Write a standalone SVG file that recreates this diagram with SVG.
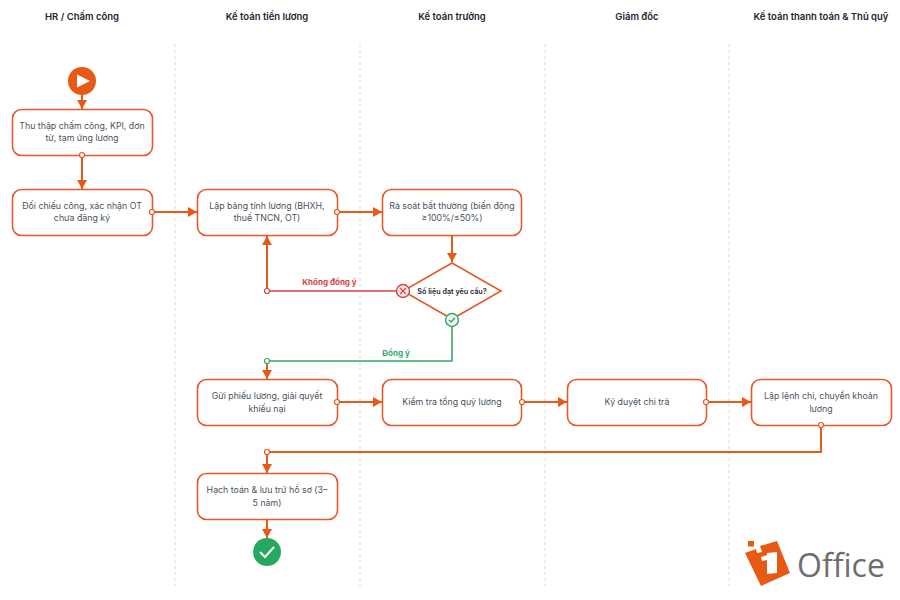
<svg xmlns="http://www.w3.org/2000/svg" width="900" height="600" viewBox="0 0 900 600">
<style>
text{font-family:Inter,"Liberation Sans",sans-serif;text-anchor:middle}
.h{font-size:9.5px;font-weight:600;fill:#1f2430}
.t{font-size:8.8px;fill:#4a5260}
.b{fill:#fff;stroke:#e8582a;stroke-width:1.6}
.l{fill:none;stroke:#e85a1c;stroke-width:2}
.lane{stroke:#d9d9d9;stroke-width:1;stroke-dasharray:3 3}
.p{fill:#fff;stroke:#e85a1c;stroke-width:1.2}
</style>
<defs>
<marker id="ar" markerUnits="userSpaceOnUse" markerWidth="12" markerHeight="12" refX="9" refY="6" orient="auto"><path d="M0 1L9 6L0 11Z" fill="#e85a14"/></marker>
</defs>
<rect width="900" height="600" fill="#fff"/>
<g id="headers">
<text class="h" x="82" y="20">HR / Chấm công</text>
<text class="h" x="267" y="20">Kế toán tiền lương</text>
<text class="h" x="452" y="20">Kế toán trưởng</text>
<text class="h" x="637" y="20">Giám đốc</text>
<text class="h" x="821" y="20">Kế toán thanh toán &amp; Thủ quỹ</text>
</g>
<g id="lanes">
<line class="lane" x1="175" y1="44" x2="175" y2="586"/>
<line class="lane" x1="360" y1="44" x2="360" y2="586"/>
<line class="lane" x1="545" y1="44" x2="545" y2="586"/>
<line class="lane" x1="729" y1="44" x2="729" y2="586"/>
</g>
<g id="connectors">
<path class="l" marker-end="url(#ar)" d="M82 95V109"/>
<path class="l" marker-end="url(#ar)" d="M82 155V189"/>
<path class="l" marker-end="url(#ar)" d="M152 212H197"/>
<path class="l" marker-end="url(#ar)" d="M337 212H382"/>
<path class="l" marker-end="url(#ar)" d="M452 235V262"/>
<path fill="none" stroke="#d64541" stroke-width="1.6" d="M396 291H267"/>
<path fill="none" stroke="#e85a1c" stroke-width="2" marker-end="url(#ar)" d="M267 291V236"/>
<path fill="none" stroke="#35a868" stroke-width="1.6" d="M452 327V361H267"/>
<path class="l" marker-end="url(#ar)" d="M267 361V379"/>
<path class="l" marker-end="url(#ar)" d="M337 402H382"/>
<path class="l" marker-end="url(#ar)" d="M522 402H567"/>
<path class="l" marker-end="url(#ar)" d="M706 402H751"/>
<path class="l" d="M821 425V452H267"/>
<path class="l" marker-end="url(#ar)" d="M267 452V473"/>
<path class="l" marker-end="url(#ar)" d="M267 519V538"/>
<text x="329.500" y="285" font-size="8px" font-weight="700" fill="#d64541">Không đồng ý</text>
<text x="396" y="356" font-size="8px" font-weight="700" fill="#35a868">Đồng ý</text>
</g>
<g id="start"><circle cx="82" cy="81" r="14" fill="#e85a14"/><path d="M77 74.500L90 81L77 87.500Z" fill="#fff"/></g>
<g id="n1"><rect class="b" x="12.500" y="109.500" width="140" height="46" rx="9"/><text class="t" x="82" y="128.500">Thu thập chấm công, KPI, đơn</text><text class="t" x="82" y="141">từ, tạm ứng lương</text></g>
<g id="n2"><rect class="b" x="12.500" y="189.500" width="140" height="46" rx="9"/><text class="t" x="82" y="208.500">Đối chiếu công, xác nhận OT</text><text class="t" x="82" y="221">chưa đăng ký</text></g>
<g id="n3"><rect class="b" x="197.500" y="189.500" width="140" height="46" rx="9"/><text class="t" x="267" y="208.500">Lập bảng tính lương (BHXH,</text><text class="t" x="267" y="221">thuế TNCN, OT)</text></g>
<g id="n4"><rect class="b" x="382.500" y="189.500" width="139" height="46" rx="9"/><text class="t" x="452" y="208.500">Rà soát bất thường (biến động</text><text class="t" x="452" y="221">≥100%/≤50%)</text></g>
<g id="decision"><path d="M452 263L501 291L452 319L403 291Z" fill="#fff" stroke="#e8582a" stroke-width="1.6"/><text x="452" y="293.500" font-size="7.200px" font-weight="600" fill="#1f2430">Số liệu đạt yêu cầu?</text>
<circle cx="403" cy="291" r="6.500" fill="#fdecea" stroke="#d64541" stroke-width="1.4"/><path d="M400 288L406 294M406 288L400 294" stroke="#d64541" stroke-width="1.2"/>
<circle cx="452" cy="320" r="6.500" fill="#eaf8f0" stroke="#35a868" stroke-width="1.4"/><path d="M449 320L451 322L455 318" fill="none" stroke="#2a9a5c" stroke-width="1.2"/></g>
<g id="n5"><rect class="b" x="197.500" y="379.500" width="140" height="46" rx="9"/><text class="t" x="267" y="399">Gửi phiếu lương, giải quyết</text><text class="t" x="267" y="411.500">khiếu nại</text></g>
<g id="n6"><rect class="b" x="382.500" y="379.500" width="139" height="46" rx="9"/><text class="t" x="452" y="405">Kiểm tra tổng quỹ lương</text></g>
<g id="n7"><rect class="b" x="567.500" y="379.500" width="139" height="46" rx="9"/><text class="t" x="637" y="405">Ký duyệt chi trả</text></g>
<g id="n8"><rect class="b" x="751.500" y="379.500" width="140" height="46" rx="9"/><text class="t" x="821" y="399">Lập lệnh chi, chuyển khoản</text><text class="t" x="821" y="411.500">lương</text></g>
<g id="n9"><rect class="b" x="197.500" y="473.500" width="140" height="46" rx="9"/><text class="t" x="267" y="493">Hạch toán &amp; lưu trữ hồ sơ (3–</text><text class="t" x="267" y="505.500">5 năm)</text></g>
<g id="end"><circle cx="267" cy="552" r="14" fill="#27a85f"/><path d="M260 552L265 557L274 547" fill="none" stroke="#fff" stroke-width="2"/></g>
<g id="ports">
<circle class="p" cx="82" cy="155" r="2.500"/>
<circle class="p" cx="152" cy="212" r="2.500"/>
<circle class="p" cx="337" cy="212" r="2.500"/>
<circle cx="267" cy="291" r="2.500" fill="#fff" stroke="#d64541" stroke-width="1.2"/>
<circle cx="267" cy="361" r="2.500" fill="#fff" stroke="#35a868" stroke-width="1.2"/>
<circle class="p" cx="337" cy="402" r="2.500"/>
<circle class="p" cx="522" cy="402" r="2.500"/>
<circle class="p" cx="706" cy="402" r="2.500"/>
<circle class="p" cx="821" cy="425" r="2.500"/>
<circle class="p" cx="267" cy="452" r="2.500"/>
</g>
<g id="logo">
<rect x="748" y="541" width="6" height="5.500" fill="#e85a14"/>
<path d="M745 553L756 549L757 553L762 552L760 546L777 541L790 573L761 586Z" fill="#e85a14"/>
<path d="M761 557L767 555L767 553L777 552L777 573L767 574L767 560L762 561Z" fill="#fff"/>
<text x="841" y="577" font-size="32px" fill="#6d6e71" style="font-family:'Open Sans','Liberation Sans',sans-serif">Office</text>
</g>
</svg>
